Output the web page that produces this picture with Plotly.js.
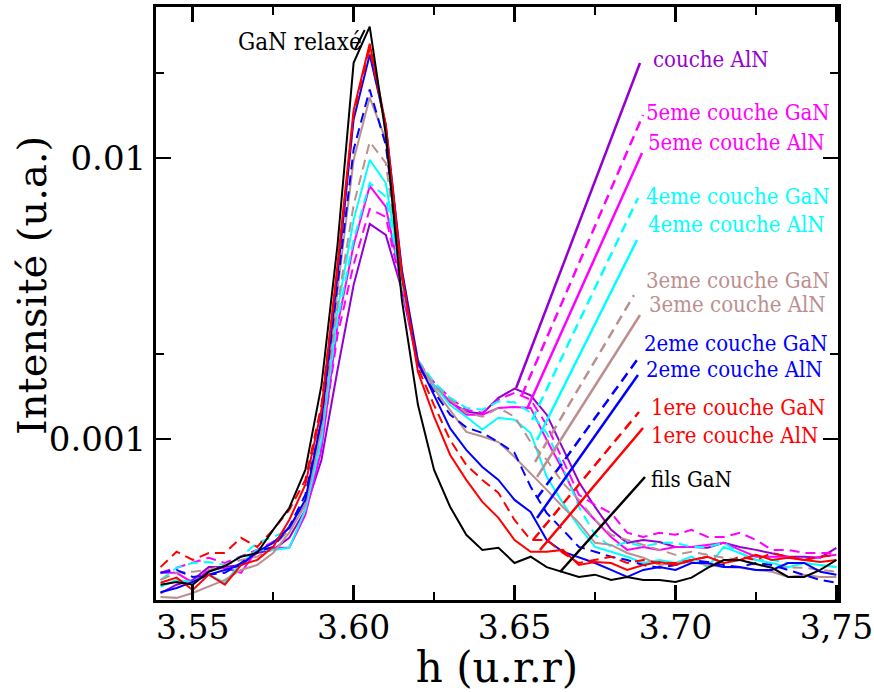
<!DOCTYPE html>
<html>
<head>
<meta charset="utf-8">
<script src="https://cdn.plot.ly/plotly-3.0.1.min.js"></script>
<style>html,body{margin:0;padding:0;background:#fff;}#chart{width:874px;height:692px;}</style>
</head>
<body>
<div id="chart"></div>
<script>
// h (u.r.r)
const h = [3.540,3.545,3.550,3.555,3.560,3.565,3.570,3.575,3.580,3.585,3.590,3.595,3.600,3.605,3.610,3.615,3.620,3.625,3.630,3.635,3.640,3.645,3.650,3.655,3.660,3.665,3.670,3.675,3.680,3.685,3.690,3.695,3.700,3.705,3.710,3.715,3.720,3.725,3.730,3.735,3.740,3.745,3.750];

const filsGaN = [3.03e-4,3.10e-4,3.03e-4,3.37e-4,3.53e-4,3.81e-4,3.93e-4,4.75e-4,5.68e-4,7.76e-4,1.55e-3,4.90e-3,0.0218,0.0293,0.0121,3.12e-3,1.32e-3,7.76e-4,5.73e-4,4.56e-4,4.03e-4,4.10e-4,3.62e-4,3.81e-4,3.50e-4,3.37e-4,3.23e-4,3.29e-4,3.15e-4,3.23e-4,3.15e-4,3.15e-4,3.10e-4,3.21e-4,3.48e-4,3.71e-4,3.71e-4,3.59e-4,3.48e-4,3.23e-4,3.23e-4,3.42e-4,3.71e-4];
const c1AlN = [3.08e-4,3.21e-4,2.90e-4,3.29e-4,3.03e-4,3.56e-4,3.71e-4,4.13e-4,5.15e-4,6.87e-4,1.27e-3,4.17e-3,0.0148,0.0255,0.0131,3.83e-3,1.73e-3,1.20e-3,8.77e-4,7.15e-4,5.97e-4,5.24e-4,4.37e-4,3.97e-4,3.97e-4,4.03e-4,3.56e-4,3.65e-4,3.62e-4,3.42e-4,3.56e-4,3.65e-4,3.56e-4,3.71e-4,3.81e-4,3.62e-4,3.71e-4,3.87e-4,3.71e-4,3.78e-4,3.71e-4,3.65e-4,3.71e-4];
const c1GaN = [3.50e-4,3.97e-4,3.71e-4,3.93e-4,3.93e-4,4.45e-4,4.13e-4,4.75e-4,5.59e-4,7.15e-4,1.32e-3,3.99e-3,0.0143,0.0245,0.0128,3.83e-3,1.79e-3,1.32e-3,9.91e-4,8.08e-4,7.15e-4,6.43e-4,5.15e-4,4.37e-4,4.37e-4,3.93e-4,3.62e-4,3.71e-4,3.81e-4,3.62e-4,3.71e-4,3.62e-4,3.62e-4,3.71e-4,3.81e-4,3.62e-4,3.81e-4,3.71e-4,3.93e-4,3.81e-4,3.71e-4,3.81e-4,3.87e-4];
const c2AlN = [2.85e-4,2.95e-4,3.10e-4,3.29e-4,3.42e-4,3.56e-4,3.97e-4,4.27e-4,4.83e-4,6.07e-4,1.17e-3,3.83e-3,0.0137,0.0233,0.0131,3.99e-3,1.88e-3,1.43e-3,1.09e-3,9.14e-4,7.95e-4,7.15e-4,6.07e-4,5.50e-4,4.37e-4,3.97e-4,3.78e-4,3.62e-4,3.42e-4,3.23e-4,3.42e-4,3.50e-4,3.42e-4,3.62e-4,3.62e-4,3.50e-4,3.50e-4,3.42e-4,3.42e-4,3.62e-4,3.62e-4,3.37e-4,3.29e-4];
const c2GaN = [3.34e-4,3.42e-4,3.23e-4,3.29e-4,3.34e-4,3.62e-4,3.97e-4,4.13e-4,4.87e-4,6.33e-4,1.17e-3,3.53e-3,0.0107,0.0175,0.0111,3.83e-3,1.83e-3,1.47e-3,1.22e-3,1.10e-3,1.05e-3,9.75e-4,8.92e-4,6.76e-4,5.45e-4,4.75e-4,4.13e-4,3.97e-4,3.81e-4,3.71e-4,3.56e-4,3.48e-4,3.56e-4,3.71e-4,3.65e-4,3.56e-4,3.50e-4,3.62e-4,3.56e-4,3.42e-4,3.29e-4,3.15e-4,3.08e-4];
const c3AlN = [2.74e-4,2.72e-4,2.83e-4,2.98e-4,3.15e-4,3.42e-4,3.56e-4,3.93e-4,4.64e-4,5.83e-4,1.08e-3,3.39e-3,9.84e-3,0.0164,0.0116,3.99e-3,1.91e-3,1.51e-3,1.27e-3,1.06e-3,1.02e-3,9.75e-4,8.63e-4,7.57e-4,6.59e-4,5.73e-4,5.03e-4,4.27e-4,4.20e-4,3.93e-4,3.78e-4,3.56e-4,3.62e-4,3.65e-4,3.56e-4,3.50e-4,3.48e-4,3.42e-4,3.37e-4,3.23e-4,3.29e-4,3.23e-4,3.23e-4];
const c3GaN = [3.15e-4,3.34e-4,3.37e-4,3.42e-4,3.56e-4,3.71e-4,3.81e-4,4.13e-4,4.75e-4,6.07e-4,1.08e-3,3.00e-3,6.80e-3,0.0114,9.60e-3,3.68e-3,1.88e-3,1.55e-3,1.38e-3,1.24e-3,1.20e-3,1.29e-3,1.20e-3,9.75e-4,8.42e-4,6.98e-4,6.07e-4,5.15e-4,4.56e-4,4.37e-4,4.20e-4,4.03e-4,3.87e-4,3.97e-4,3.87e-4,3.78e-4,3.71e-4,3.56e-4,3.50e-4,3.50e-4,3.48e-4,3.42e-4,3.37e-4];
const c4AlN = [2.98e-4,3.15e-4,3.10e-4,3.29e-4,3.08e-4,3.62e-4,4.03e-4,4.03e-4,4.10e-4,5.59e-4,9.91e-4,2.88e-3,6.02e-3,9.84e-3,8.14e-3,3.68e-3,1.88e-3,1.55e-3,1.32e-3,1.20e-3,1.08e-3,1.19e-3,1.17e-3,1.05e-3,7.33e-4,5.92e-4,4.87e-4,4.13e-4,3.97e-4,3.81e-4,3.62e-4,3.71e-4,3.62e-4,3.81e-4,3.50e-4,4.13e-4,3.93e-4,3.71e-4,3.62e-4,3.50e-4,3.62e-4,3.56e-4,3.50e-4];
const c4GaN = [3.15e-4,3.48e-4,3.62e-4,3.65e-4,3.56e-4,3.81e-4,4.27e-4,4.48e-4,4.75e-4,6.07e-4,1.04e-3,2.65e-3,5.11e-3,8.14e-3,7.27e-3,3.53e-3,1.91e-3,1.59e-3,1.40e-3,1.29e-3,1.27e-3,1.36e-3,1.35e-3,1.24e-3,1.05e-3,7.95e-4,5.73e-4,4.56e-4,4.13e-4,4.30e-4,4.13e-4,4.27e-4,4.27e-4,4.13e-4,4.13e-4,4.27e-4,3.93e-4,3.71e-4,3.71e-4,3.62e-4,3.62e-4,3.56e-4,3.50e-4];
const c5AlN = [3.34e-4,3.34e-4,3.08e-4,3.42e-4,3.48e-4,3.34e-4,4.03e-4,4.10e-4,4.10e-4,5.37e-4,9.14e-4,2.54e-3,4.90e-3,7.95e-3,6.70e-3,3.53e-3,1.86e-3,1.55e-3,1.36e-3,1.22e-3,1.22e-3,1.29e-3,1.30e-3,1.29e-3,9.91e-4,7.76e-4,5.92e-4,5.15e-4,4.48e-4,4.03e-4,4.13e-4,4.03e-4,4.13e-4,4.13e-4,4.20e-4,4.27e-4,4.03e-4,3.81e-4,3.81e-4,3.81e-4,3.71e-4,3.81e-4,3.87e-4];
const c5GaN = [3.34e-4,3.48e-4,3.62e-4,3.78e-4,3.62e-4,3.81e-4,4.03e-4,4.30e-4,4.87e-4,5.83e-4,9.52e-4,2.34e-3,4.17e-3,6.58e-3,6.17e-3,3.39e-3,1.88e-3,1.59e-3,1.40e-3,1.27e-3,1.24e-3,1.38e-3,1.46e-3,1.38e-3,1.12e-3,8.42e-4,6.33e-4,5.83e-4,5.45e-4,4.64e-4,4.48e-4,4.64e-4,4.56e-4,4.75e-4,4.48e-4,4.48e-4,4.64e-4,4.37e-4,4.03e-4,4.03e-4,3.93e-4,3.93e-4,3.93e-4];
const cAlN = [2.83e-4,3.03e-4,3.15e-4,3.50e-4,3.50e-4,3.56e-4,3.93e-4,4.03e-4,4.45e-4,5.59e-4,8.42e-4,1.76e-3,3.53e-3,5.82e-3,5.32e-3,3.39e-3,1.83e-3,1.55e-3,1.35e-3,1.25e-3,1.23e-3,1.40e-3,1.51e-3,1.43e-3,1.22e-3,9.28e-4,7.03e-4,5.73e-4,4.75e-4,4.27e-4,4.37e-4,4.30e-4,4.13e-4,4.13e-4,4.10e-4,4.27e-4,4.13e-4,4.03e-4,3.93e-4,3.81e-4,3.81e-4,3.78e-4,4.10e-4];

const seriesNames = ["couche AlN","5eme couche GaN","5eme couche AlN","4eme couche GaN","4eme couche AlN","3eme couche GaN","3eme couche AlN","2eme couche GaN","2eme couche AlN","1ere couche GaN","1ere couche AlN","fils GaN"];
const seriesData = [cAlN,c5GaN,c5AlN,c4GaN,c4AlN,c3GaN,c3AlN,c2GaN,c2AlN,c1GaN,c1AlN,filsGaN];
const seriesColors = ["#9400D3","#FF00FF","#FF00FF","#00FFFF","#00FFFF","#BC8F8F","#BC8F8F","#0000FF","#0000FF","#FF0000","#FF0000","#000000"];
const seriesDash = ["solid","10px,6px","solid","10px,6px","solid","10px,6px","solid","10px,6px","solid","10px,6px","solid","solid"];

const xTickVals = [3.55,3.60,3.65,3.70,3.75];
const xTickText = ["3.55","3.60","3.65","3.70","3,75"];
const yTickVals = [0.001,0.01];
const yTickText = ["0.001","0.01"];

const labelPos = [[0.7273,0.9123],[0.717,0.8229],[0.72,0.7707],[0.717,0.6796],[0.72,0.6324],[0.717,0.5380],[0.7214,0.4975],[0.7141,0.4330],[0.717,0.3890],[0.7243,0.3238],[0.7243,0.2782],[0.7243,0.2024]];
const leaders = [[0.528,0.3575,0.7097,0.9056],[0.5367,0.3457,0.7141,0.8179],[0.544,0.3221,0.7126,0.7538],[0.5513,0.3035,0.7067,0.6779],[0.5587,0.2698,0.7053,0.6071],[0.5557,0.2327,0.7009,0.5143],[0.5587,0.2074,0.7097,0.4806],[0.5587,0.172,0.7053,0.4047],[0.5587,0.1383,0.7067,0.3794],[0.5528,0.1012,0.7082,0.317],[0.563,0.0843,0.7141,0.29],[0.5924,0.0472,0.717,0.2074]];

const F_SERIF = 'DejaVu Serif';
const F_COND = 'DejaVu Serif Condensed';

const traces = seriesData.map((d,i)=>({
  x: h, y: d, type:'scatter', mode:'lines', name: seriesNames[i],
  line:{color: seriesColors[i], width: 2, dash: seriesDash[i]},
  hoverinfo:'skip'
}));

const shapes = leaders.map((l,i)=>({
  type:'line', xref:'paper', yref:'paper', x0:l[0], y0:l[1], x1:l[2], y1:l[3],
  line:{color: seriesColors[i], width: 2.5, dash: seriesDash[i]}
}));
shapes.push({type:'line', xref:'paper', yref:'paper', x0:0.2914, y0:0.9275, x1:0.306, y1:0.9612, line:{color:'#000', width:2}});

const annotations = seriesNames.map((n,i)=>({
  text: n, xref:'paper', yref:'paper', x: labelPos[i][0], y: labelPos[i][1],
  xanchor:'left', yanchor:'middle', showarrow:false, borderpad:0,
  font:{family: F_COND, size: 22, color: seriesColors[i]}
}));
annotations.push({text:'GaN relaxé', xref:'paper', yref:'paper', x:0.1188, y:0.941, xanchor:'left', yanchor:'middle', showarrow:false, borderpad:0, font:{family:F_COND, size:24, color:'#000'}});
// y-axis title placed precisely
annotations.push({text:'Intensité (u.a.)', xref:'paper', yref:'paper', x:-0.182, y:0.531, xanchor:'center', yanchor:'middle', textangle:-90, showarrow:false, borderpad:0, font:{family:F_SERIF, size:40, color:'#000'}});

const layout = {
  width: 874, height: 692,
  margin:{l:156, r:36, t:7, b:92},
  paper_bgcolor:'#fff', plot_bgcolor:'#fff',
  showlegend:false,
  font:{family: F_SERIF, color:'#000'},
  xaxis:{
    range:[3.5386,3.7505], tickmode:'array', tickvals:xTickVals, ticktext:xTickText,
    ticks:'inside', ticklen:15, tickwidth:2.5, tickcolor:'#000',
    showline:true, linewidth:3, linecolor:'#000', mirror:'ticks',
    showgrid:false, zeroline:false, ticklabelstandoff:-4,
    tickfont:{family:F_SERIF, size:33, color:'#000'},
    minor:{tickmode:'array', tickvals:[3.575,3.625,3.675,3.725], ticks:'inside', ticklen:8, tickwidth:2, tickcolor:'#000', showgrid:false},
    title:{text:'h (u.r.r)', font:{family:F_SERIF, size:42, color:'#000'}, standoff:6}
  },
  yaxis:{
    type:'log', range:[-3.573,-1.463], tickmode:'array', tickvals:yTickVals, ticktext:yTickText,
    ticks:'inside', ticklen:15, tickwidth:2.5, tickcolor:'#000',
    showline:true, linewidth:3, linecolor:'#000', mirror:'ticks',
    showgrid:false, zeroline:false,
    tickfont:{family:F_SERIF, size:34, color:'#000'},
    minor:{tickmode:'array', tickvals:[0.002,0.02], ticks:'inside', ticklen:8, tickwidth:2, tickcolor:'#000', showgrid:false}
  },
  shapes: shapes,
  annotations: annotations
};

Plotly.newPlot('chart', traces, layout, {displayModeBar:false, staticPlot:true});
</script>
</body>
</html>
